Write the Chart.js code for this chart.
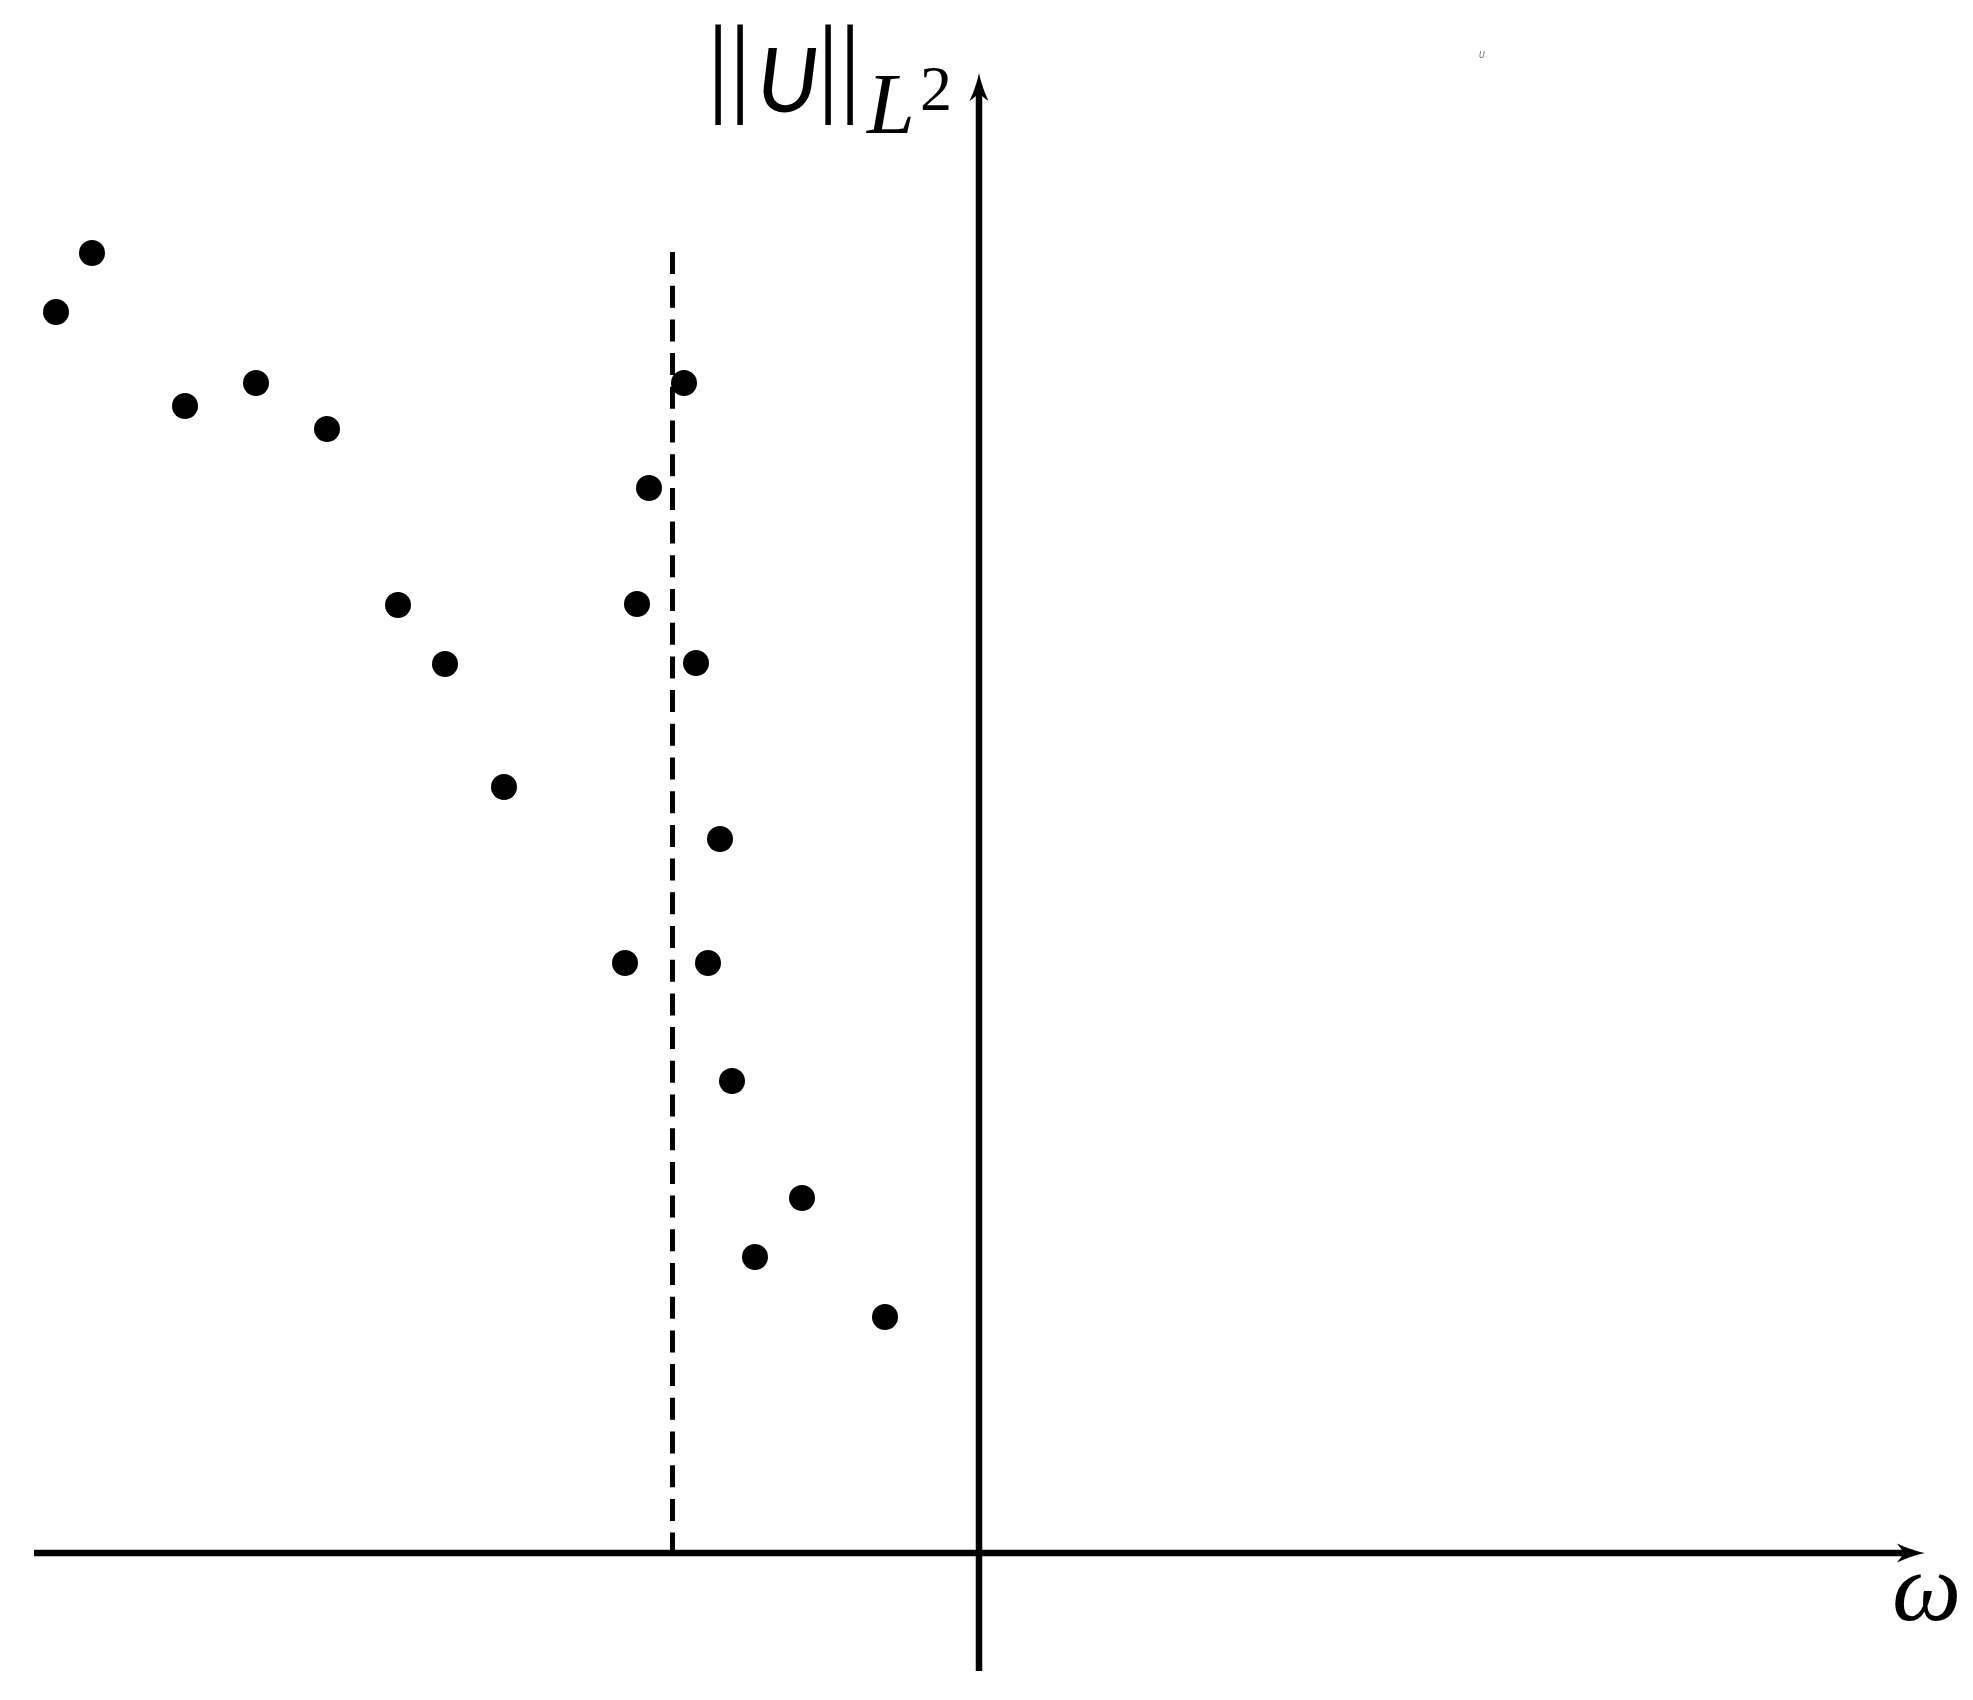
<!DOCTYPE html>
<html>
<head>
<meta charset="utf-8">
<script src="https://cdn.jsdelivr.net/npm/chart.js@4"></script>
<style>
  body { margin: 0; background: #fff; }
  #wrap { width: 1973px; height: 1700px; position: relative; }
</style>
</head>
<body>
<div id="wrap"><canvas id="branch"></canvas></div>
<script>
// solution branch: frequency omega vs L2 norm (arbitrary units, origin at axes crossing)
const omega = [-8.87, -9.23, -7.94, -7.23, -6.52, -5.81, -5.34, -4.75,
               -2.95, -3.30, -3.42, -2.83, -2.59, -3.54, -2.71, -2.47, -1.77, -2.24, -0.94];
const normU = [13.00, 12.41, 11.47, 11.70, 11.24, 9.48, 8.89, 7.66,
               11.70, 10.65, 9.49, 8.90, 7.14, 5.90, 5.90, 4.72, 3.55, 2.96, 2.36];

// vertical dashed threshold
const thresholdX = [-3.065, -3.065];
const thresholdY = [13.01, 0];

const xRange = [-9.45, 9.46];
const yRange = [-1.18, 14.80];

const points = omega.map((w, i) => ({ x: w, y: normU[i] }));
const threshold = thresholdX.map((x, i) => ({ x: x, y: thresholdY[i] }));

function arrowHead(ctx, tx, ty, dir) {
    // dir: 'right' or 'up'; latex-like arrow with curved barbs
    const L = 28, w = 9.5;
    ctx.save();
    ctx.translate(tx, ty);
    if (dir === 'up') ctx.rotate(-Math.PI / 2);
    ctx.beginPath();
    ctx.moveTo(0, 0);
    ctx.quadraticCurveTo(-L * 0.45, -w * 0.25, -L, -w);
    ctx.quadraticCurveTo(-L * 0.8, -w * 0.2, -L * 0.72, 0);
    ctx.quadraticCurveTo(-L * 0.8, w * 0.2, -L, w);
    ctx.quadraticCurveTo(-L * 0.45, w * 0.25, 0, 0);
    ctx.closePath();
    ctx.fill();
    ctx.restore();
}

const axesPlugin = {
    id: 'axesArrows',
    beforeDatasetsDraw(chart) {
        const { ctx, scales: { x, y } } = chart;
        const x0 = x.getPixelForValue(0);
        const y0 = y.getPixelForValue(0);
        ctx.save();
        ctx.strokeStyle = '#000';
        ctx.fillStyle = '#000';
        ctx.lineWidth = 6.5;
        ctx.lineCap = 'butt';
        ctx.beginPath();
        ctx.moveTo(x.left, y0);
        ctx.lineTo(x.right - 12, y0);
        ctx.moveTo(x0, y.bottom);
        ctx.lineTo(x0, y.top + 12);
        ctx.stroke();
        arrowHead(ctx, x.right, y0, 'right');
        arrowHead(ctx, x0, y.top, 'up');
        ctx.restore();
    }
};

const labelPlugin = {
    id: 'axisLabels',
    afterDraw(chart) {
        const { ctx, scales: { x, y } } = chart;
        const x0 = x.getPixelForValue(0);
        ctx.save();
        ctx.fillStyle = '#000';
        ctx.textBaseline = 'alphabetic';
        ctx.textAlign = 'left';

        // ||U||_{L^2}
        ctx.font = '111px "Liberation Serif"';
        ctx.fillText('|', x0 - 272, 102);
        ctx.fillText('|', x0 - 250, 102);
        ctx.fillText('|', x0 - 162, 102);
        ctx.fillText('|', x0 - 140, 102);
        ctx.font = 'italic 90px Lato';
        ctx.fillText('U', x0 - 222, 112);
        ctx.font = 'italic 86px "Liberation Serif"';
        ctx.fillText('L', x0 - 112, 133);
        ctx.font = '64px "Liberation Serif"';
        ctx.fillText('2', x0 - 59, 110);

        // omega
        ctx.font = 'italic 98px "Liberation Serif"';
        ctx.fillText('ω', x.right - 33, 1620);

        // tiny stray mark top right
        ctx.fillStyle = '#666';
        ctx.font = 'italic 8px "DejaVu Sans"';
        ctx.fillText('U', 1479, 58);
        ctx.restore();
    }
};

new Chart(document.getElementById('branch'), {
    type: 'scatter',
    data: {
        datasets: [
            {
                data: points,
                backgroundColor: '#000',
                borderWidth: 0,
                pointRadius: 13,
                pointHoverRadius: 13,
            },
            {
                data: threshold,
                showLine: true,
                borderColor: '#000',
                borderWidth: 5,
                borderDash: [22, 11.7],
                pointRadius: 0,
                fill: false,
            },
        ]
    },
    options: {
        responsive: true,
        maintainAspectRatio: false,
        animation: false,
        layout: { padding: { left: 34, right: 48, top: 73, bottom: 29 } },
        plugins: {
            legend: { display: false },
            tooltip: { enabled: false },
        },
        scales: {
            x: { type: 'linear', min: xRange[0], max: xRange[1], display: false },
            y: { type: 'linear', min: yRange[0], max: yRange[1], display: false },
        },
    },
    plugins: [axesPlugin, labelPlugin],
});
</script>
</body>
</html>
